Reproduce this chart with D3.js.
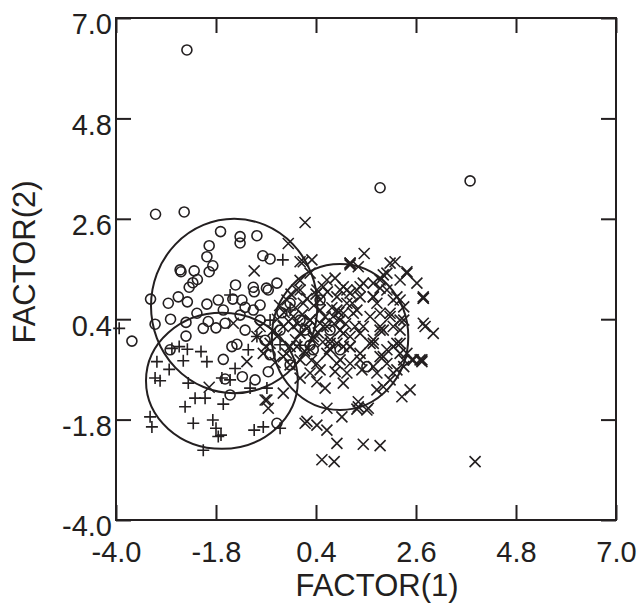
<!DOCTYPE html>
<html><head><meta charset="utf-8">
<script src="https://cdn.jsdelivr.net/npm/d3@7"></script>
<style>body{margin:0;background:#fff}</style></head><body>
<svg id="c" width="644" height="603"></svg>
<script>
const tickValues=[-4.0,-1.8,0.4,2.6,4.8,7.0];
const tickLabels=["-4.0","-1.8","0.4","2.6","4.8","7.0"];
const xTitle="FACTOR(1)", yTitle="FACTOR(2)";

// group 1 (circles)
const circX=[-2.44,-3.13,-2.50,-1.70,-1.27,-1.27,-0.90,-1.95,-2.00,-0.77,-0.61,-1.87,-1.95,-2.59,-2.57,-2.28,-2.21,-2.31,-2.39,-1.37,-0.98,-0.96,-0.65,-0.46,-3.24,-2.63,-2.43,-2.85,-2.00,-1.75,-1.43,-1.23,-1.16,-0.83,-1.27,-0.98,-1.64,-2.22,-2.80,-2.46,-3.14,-1.97,-1.80,-2.08,-1.60,-2.46,-3.65,-1.45,-1.34,-2.81,-1.64,-1.60,-1.49,-1.22,-0.94,-0.46,1.81,3.79,-0.69,-0.17,-0.39,-0.72,0.05,-0.61,0.27,-0.17,0.49,0.71,0.93,0.16,-0.83,-1.16,-0.35,1.52,-0.65,0.34];
const circY=[6.30,2.70,2.75,2.32,2.21,2.07,2.23,2.01,1.77,1.79,1.72,1.57,1.44,1.48,1.44,1.46,1.27,1.20,1.10,1.15,1.10,1.00,1.04,1.19,0.84,0.89,0.78,0.75,0.73,0.82,0.84,0.82,0.66,0.71,0.49,0.60,0.60,0.53,0.40,0.33,0.29,0.35,0.21,0.20,0.31,0.03,-0.08,-0.20,-0.15,-0.27,-0.48,-0.91,-1.26,-0.86,-0.93,-1.88,3.28,3.43,1.08,0.75,0.16,-0.06,0.38,-0.38,-0.17,-0.60,0.82,0.16,-0.27,0.16,0.38,0.16,0.54,-0.64,-0.75,-0.27];

// group 2 (plus)
const plusX=[-3.93,-0.33,-1.49,-2.77,-2.61,-2.43,-2.13,-2.52,-2.00,-3.10,-2.83,-3.14,-3.03,-2.41,-2.26,-2.04,-2.48,-1.64,-3.25,-3.21,-2.30,-1.87,-1.80,-1.75,-1.69,-2.08,-0.96,-0.76,-0.39,-1.49,-1.38,-1.05,-1.09,-0.90,-0.39,-0.68,-0.61,0.05,-0.17,-1.67];
const plusY=[0.20,1.70,0.93,-0.24,-0.20,-0.26,-0.31,-0.51,-0.53,-0.53,-0.70,-0.89,-0.95,-1.00,-1.33,-1.33,-1.52,-1.46,-1.74,-1.96,-1.88,-1.81,-1.99,-2.17,-2.14,-2.47,-2.03,-1.96,-1.99,-0.93,-0.68,-1.11,-0.27,0.02,-0.16,-1.11,0.38,-0.17,0.60,-0.89];

// group 3 (x)
const crossX=[0.16,-0.21,0.05,-0.96,-1.42,-1.95,-1.12,-0.72,-0.65,-0.32,0.16,
1.46,2.14,2.40,2.62,2.76,2.80,2.98,1.15,0.12,0.31,1.96,2.25,0.82,1.00,1.30,1.37,1.66,1.81,2.10,2.33,2.03,1.59,1.22,0.86,0.49,0.56,0.05,-0.24,2.10,1.81,1.37,1.00,0.64,0.27,-0.10,2.25,2.40,1.96,1.59,1.15,0.71,0.34,-0.02,
2.73,2.47,2.29,1.74,1.33,1.30,1.52,0.64,0.97,0.20,0.42,0.64,0.86,1.44,1.81,0.53,0.80,-0.68,-0.17,0.05,0.42,0.60,1.00,1.41,2.03,2.18,2.54,2.25,1.96,1.66,1.15,0.82,0.49,0.27,
1.15,1.33,2.76,2.51,2.73,1.33,1.55,3.90,1.88,1.66,1.96,2.25,1.74,1.37,1.15,2.33,2.03,1.81,2.25,1.66,2.10,1.88,1.37,1.08,1.74,2.10,1.88,2.33,1.00,1.26,1.15,0.93,
0.27,0.64,0.93,1.08,0.42,0.12,0.49,0.78,0.93,0.56,0.27,-0.10,-0.32,0.05,0.34,0.71,1.00,0.64,0.27,-0.17,-0.46,-0.61,-0.90,-0.83,0.86,0.42,0.05,-0.32,-0.76,0.49,0.86,-0.02,
1.15,2.03,2.40,2.76,1.44,1.81,1.08,1.66,2.18,1.30,1.81,2.25,0.93,1.44,1.88,1.15,1.66,2.18,0.86,1.37,1.81,2.33,2.69,2.76,
-0.40,-0.30,-0.20,-0.05,0.10,0.20,0.35,0.45,0.55,0.60,0.75,0.80,0.90,0.15,-0.05,-0.25,0.30,0.70,0.40,0.05,-0.45,-0.55,-0.70,-0.50,0.20,0.65,1.05,1.20,-0.15,0.00];
const crossY=[2.52,2.06,1.66,1.46,0.31,-1.09,-0.53,-1.37,-1.55,-1.22,-1.88,
1.84,1.66,1.44,1.19,0.89,0.24,0.09,1.59,1.66,1.70,1.41,1.26,1.30,1.11,1.04,0.89,0.89,1.08,0.82,0.67,0.53,0.46,0.53,0.60,0.82,1.11,1.04,0.82,0.24,0.24,0.09,0.09,0.24,0.38,0.24,-0.13,-0.35,-0.27,-0.13,-0.20,-0.13,-0.05,-0.20,
-0.53,-1.15,-1.30,-1.15,-1.41,-1.57,-1.59,-1.55,-1.74,-1.84,-1.92,-2.03,-2.32,-2.34,-2.37,-2.68,-2.72,-1.37,-0.60,-0.89,-0.97,-1.11,-1.00,-0.71,-0.93,-0.71,-0.49,-0.35,-0.57,-0.64,-0.57,-0.75,-0.71,-0.78,
1.63,1.55,0.86,-0.49,-0.49,-1.52,-1.55,-2.72,1.37,1.19,1.04,0.82,0.75,1.11,0.97,0.38,0.46,0.16,0.16,-0.13,-0.20,-0.42,-0.49,-0.78,-0.78,-0.78,-1.08,-0.64,0.53,0.24,-0.20,-0.49,
1.41,1.26,1.04,0.75,1.04,0.75,0.60,0.46,0.16,0.24,0.38,0.46,0.24,0.09,0.02,-0.05,-0.20,-0.35,-0.27,-0.20,0.02,-0.13,0.02,0.24,-0.57,-0.57,-0.49,-0.42,-0.35,0.31,0.89,1.04,
1.63,1.63,1.41,0.86,1.19,1.26,1.04,0.89,0.89,0.60,0.53,0.38,0.38,0.24,0.16,0.02,-0.05,-0.13,-0.13,-0.35,-0.42,-0.49,-0.49,0.31,
0.70,0.55,0.35,0.65,0.50,0.20,0.70,0.10,-0.10,0.45,0.65,0.30,0.55,-0.30,-0.05,-0.35,-0.50,-0.25,0.95,1.25,0.40,0.15,-0.20,-0.55,0.85,1.00,0.30,0.75,0.95,0.30];

// group ellipses (center, radii in data units)
const ellCX=[-1.40,-1.67,0.93];
const ellCY=[0.69,-0.95,0.01];
const ellRX=[1.83,1.67,1.50];
const ellRY=[1.91,1.49,1.60];

const ink="#231f20";
const font="'Liberation Sans', Arial, Helvetica, sans-serif";
const L=116,R=616,T=18,B=520;
const x=d3.scaleLinear().domain([-4,7]).range([L,R]);
const y=d3.scaleLinear().domain([-4,7]).range([B,T]);
const svg=d3.select("#c");

// ellipses
const eg=svg.append("g");
ellCX.forEach((cx,i)=>{
  eg.append("ellipse")
    .attr("cx",x(cx)).attr("cy",y(ellCY[i]))
    .attr("rx",x(cx+ellRX[i])-x(cx)).attr("ry",y(ellCY[i])-y(ellCY[i]+ellRY[i]))
    .attr("fill","none").attr("stroke",ink).attr("stroke-width",2);
});

// markers
const mg=svg.append("g").attr("fill","none").attr("stroke",ink).attr("stroke-width",1.6);
circX.forEach((v,i)=>mg.append("circle").attr("cx",x(v)).attr("cy",y(circY[i])).attr("r",5));
plusX.forEach((v,i)=>mg.append("path").attr("transform",`translate(${x(v)},${y(plusY[i])})`).attr("d","M-6,0H6M0,-6V6"));
crossX.forEach((v,i)=>mg.append("path").attr("transform",`translate(${x(v)},${y(crossY[i])})`).attr("d","M-5.5,-5.5L5.5,5.5M-5.5,5.5L5.5,-5.5"));

// axes
function style(g){g.select(".domain").remove();g.selectAll("line").attr("stroke",ink).attr("stroke-width",2);
  g.selectAll("text").attr("fill",ink).style("font-family",font).style("font-size","29px");}
const fmt=(d)=>tickLabels[tickValues.indexOf(d)];
svg.append("g").attr("transform",`translate(0,${B})`)
  .call(d3.axisBottom(x).tickValues(tickValues).tickSize(-15).tickPadding(21).tickFormat(fmt)).call(style);
svg.append("g").attr("transform",`translate(${L},0)`)
  .call(d3.axisLeft(y).tickValues(tickValues).tickSize(-15).tickPadding(4).tickFormat(fmt)).call(style)
  .selectAll("text").attr("dy","0.55em");
svg.append("g").attr("transform",`translate(0,${T})`)
  .call(d3.axisTop(x).tickValues(tickValues).tickSize(-15).tickFormat("")).call(style);
svg.append("g").attr("transform",`translate(${R},0)`)
  .call(d3.axisRight(y).tickValues(tickValues).tickSize(-15).tickFormat("")).call(style);

// frame
svg.append("rect").attr("x",L).attr("y",T).attr("width",R-L).attr("height",B-T)
  .attr("fill","none").attr("stroke",ink).attr("stroke-width",2);

// titles
svg.append("text").attr("x",377).attr("y",596).attr("text-anchor","middle")
  .attr("fill",ink).style("font-family",font).style("font-size","31px").text(xTitle);
svg.append("text").attr("transform","translate(35,262) rotate(-90)").attr("text-anchor","middle")
  .attr("fill",ink).style("font-family",font).style("font-size","31px").text(yTitle);
</script></body></html>
